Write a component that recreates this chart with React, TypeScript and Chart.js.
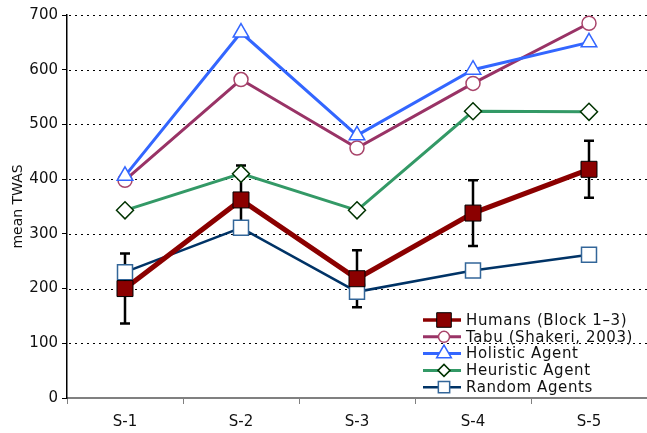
import React, { useEffect, useRef } from "react";
import { Chart, registerables } from "chart.js";

Chart.register(...registerables);

const categories = ["S-1", "S-2", "S-3", "S-4", "S-5"];
const humans = [200, 362, 218, 338, 418];
const humansErr = [64, 63, 52, 60, 52];
const tabu = [398, 582, 457, 575, 685];
const holistic = [406, 668, 480, 600, 650];
const heuristic = [343, 410, 343, 524, 523];
const randomAgents = [230, 311, 194, 233, 262];
const yTicks = [0, 100, 200, 300, 400, 500, 600, 700];

const FONT = "DejaVu Sans";

const errorBarPlugin = {
  id: "errorBars",
  beforeDatasetsDraw(chart: any) {
    const { ctx, scales } = chart;
    const x = scales.x;
    const y = scales.y;
    ctx.save();
    ctx.strokeStyle = "#000";
    ctx.lineWidth = 2.5;
    humans.forEach((v, i) => {
      const px = x.getPixelForValue(i);
      const top = y.getPixelForValue(v + humansErr[i]);
      const bot = y.getPixelForValue(v - humansErr[i]);
      ctx.beginPath();
      ctx.moveTo(px, top);
      ctx.lineTo(px, bot);
      ctx.moveTo(px - 5, top);
      ctx.lineTo(px + 5, top);
      ctx.moveTo(px - 5, bot);
      ctx.lineTo(px + 5, bot);
      ctx.stroke();
    });
    ctx.restore();
  },
};

const gridPlugin = {
  id: "dottedGrid",
  beforeDatasetsDraw(chart: any) {
    const { ctx, scales, chartArea } = chart;
    const y = scales.y;
    ctx.save();
    ctx.strokeStyle = "#000";
    ctx.lineWidth = 1;
    ctx.setLineDash([2, 4]);
    yTicks.forEach((t) => {
      if (t === 0) return;
      const py = Math.round(y.getPixelForValue(t)) + 0.5;
      ctx.beginPath();
      ctx.moveTo(chartArea.left + 2, py);
      ctx.lineTo(chartArea.right, py);
      ctx.stroke();
    });
    ctx.restore();
  },
};

function drawMarker(ctx: CanvasRenderingContext2D, style: string, r: number, x: number, y: number) {
  ctx.beginPath();
  if (style === "rect") {
    const s = Math.SQRT1_2 * r;
    ctx.rect(x - s, y - s, 2 * s, 2 * s);
  } else if (style === "circle") {
    ctx.arc(x, y, r, 0, Math.PI * 2);
  } else if (style === "triangle") {
    const a = -Math.PI / 2;
    for (let k = 0; k < 3; k++) {
      const ang = a + (k * 2 * Math.PI) / 3;
      const px = x + Math.cos(ang) * r;
      const py = y + Math.sin(ang) * r;
      if (k === 0) ctx.moveTo(px, py);
      else ctx.lineTo(px, py);
    }
    ctx.closePath();
  } else if (style === "rectRot") {
    ctx.moveTo(x - r, y);
    ctx.lineTo(x, y - r);
    ctx.lineTo(x + r, y);
    ctx.lineTo(x, y + r);
    ctx.closePath();
  }
  ctx.fill();
  ctx.stroke();
}

const legendPlugin = {
  id: "insideLegend",
  afterDraw(chart: any) {
    const { ctx, chartArea } = chart;
    const x0 = chartArea.right - 224;
    const y0 = chartArea.bottom - 78;
    ctx.save();
    chart.data.datasets.forEach((ds: any, i: number) => {
      const cy = y0 + i * 16.8;
      ctx.strokeStyle = ds.borderColor;
      ctx.lineWidth = Math.min(ds.borderWidth, 3.5);
      ctx.setLineDash([]);
      ctx.beginPath();
      ctx.moveTo(x0, cy);
      ctx.lineTo(x0 + 38, cy);
      ctx.stroke();
      ctx.fillStyle = ds.pointBackgroundColor;
      ctx.strokeStyle = ds.pointBorderColor;
      ctx.lineWidth = ds.pointBorderWidth;
      drawMarker(ctx, ds.pointStyle, ds.legendRadius, x0 + 21, cy);
      ctx.fillStyle = "#111";
      ctx.font = `15px "${FONT}"`;
      (ctx as any).letterSpacing = "0.6px";
      ctx.textBaseline = "middle";
      ctx.textAlign = "left";
      ctx.fillText(ds.label, x0 + 43, cy + 1);
      (ctx as any).letterSpacing = "0px";
    });
    ctx.restore();
  },
};

export default function App() {
  const ref = useRef<HTMLCanvasElement>(null);
  useEffect(() => {
    document.body.style.margin = "0";
    document.documentElement.style.overflow = "hidden";
    const mk = (
      label: string,
      data: number[],
      color: string,
      width: number,
      style: string,
      radius: number,
      legendRadius: number,
      pbg: string,
      pbc: string,
      pbw: number,
      order: number
    ) => ({
      label,
      data,
      borderColor: color,
      borderWidth: width,
      pointStyle: style,
      pointRadius: radius,
      pointHoverRadius: radius,
      pointBackgroundColor: pbg,
      pointBorderColor: pbc,
      pointBorderWidth: pbw,
      legendRadius,
      tension: 0,
      fill: false,
      clip: false,
      order,
    });
    const chart = new Chart(ref.current!, {
      type: "line",
      data: {
        labels: categories,
        datasets: [
          mk("Humans (Block 1–3)", humans, "#8B0000", 5, "rect", 11.3, 10.3, "#8B0000", "#000", 1, 0),
          mk("Tabu (Shakeri, 2003)", tabu, "#993366", 3, "circle", 7, 5.5, "#fff", "#A8446A", 1.5, 3),
          mk("Holistic Agent", holistic, "#3366FF", 3, "triangle", 9, 8.5, "#fff", "#3366FF", 1.5, 2),
          mk("Heuristic Agent", heuristic, "#339966", 3, "rectRot", 8.5, 6, "#fff", "#003300", 1.5, 4),
          mk("Random Agents", randomAgents, "#003366", 2.5, "rect", 10.6, 8, "#fff", "#336699", 1.5, 1),
        ] as any,
      },
      options: {
        animation: false,
        responsive: true,
        maintainAspectRatio: false,
        layout: { autoPadding: false, padding: { top: 15, right: 0, left: 0, bottom: 0 } },
        plugins: {
          legend: { display: false },
          tooltip: { enabled: false },
        },
        scales: {
          x: {
            offset: true,
            grid: { offset: true, drawOnChartArea: false, drawTicks: true, tickLength: 6, color: "#808080" },
            border: { color: "#808080", width: 2 },
            ticks: { color: "#111", font: { family: FONT, size: 15 }, padding: 9 },
            afterFit: (s: any) => {
              s.height = 35;
            },
          },
          y: {
            min: 0,
            max: 700,
            afterBuildTicks: (s: any) => {
              s.ticks = yTicks.map((v) => ({ value: v }));
            },
            grid: { drawOnChartArea: false, drawTicks: true, tickLength: 5, color: "#000" },
            border: { color: "#000", width: 1.5 },
            ticks: { color: "#111", font: { family: FONT, size: 15 }, padding: 4 },
            title: {
              display: true,
              text: "mean TWAS",
              color: "#111",
              font: { family: FONT, size: 14 },
              padding: { top: 10, bottom: 0 },
            },
            afterFit: (s: any) => {
              s.width = 67;
            },
          },
        },
      } as any,
      plugins: [gridPlugin, errorBarPlugin, legendPlugin],
    });
    return () => chart.destroy();
  }, []);
  return (
    <div style={{ position: "absolute", left: 0, top: 0, width: 647, height: 433 }}>
      <canvas ref={ref} />
    </div>
  );
}
